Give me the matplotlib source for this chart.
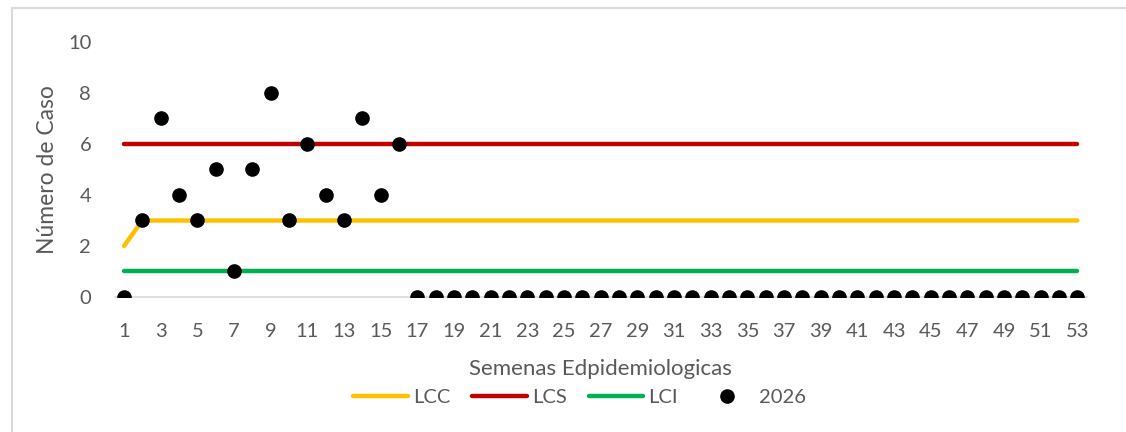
import matplotlib.pyplot as plt
from matplotlib.patches import Rectangle

semanas = list(range(1, 54))
casos_2026 = [0, 3, 7, 4, 3, 5, 1, 5, 8, 3, 6, 4, 3, 7, 4, 6] + [0] * 37
lcc = [2] + [3] * 52
lcs = [6] * 53
lci = [1] * 53
xticks = list(range(1, 54, 2))
yticks = [0, 2, 4, 6, 8, 10]

gris = '#595959'
plt.rcParams['font.family'] = ['Lato', 'DejaVu Sans']

fig = plt.figure(figsize=(11.26, 4.32), dpi=100)
ax = fig.add_axes([0.102, 0.3125, 0.863, 0.5903])

ax.plot(semanas, lcc, color='#FFC000', lw=3.2, solid_capstyle='round', label='LCC', zorder=2)
ax.plot(semanas, lcs, color='#C00000', lw=3.2, solid_capstyle='round', label='LCS', zorder=2)
ax.plot(semanas, lci, color='#00B050', lw=3.2, solid_capstyle='round', label='LCI', zorder=2)
ax.plot(semanas, casos_2026, 'o', color='black', ms=9.5, label='2026', zorder=3)

ax.set_xlim(0.5, 53.5)
ax.set_ylim(0, 10)
ax.set_xticks(xticks)
ax.set_yticks(yticks)
ax.tick_params(length=0, labelsize=14.5, colors=gris)
ax.tick_params(axis='x', pad=18.5)
ax.tick_params(axis='y', pad=17)
for s in ['top', 'right', 'left']:
    ax.spines[s].set_visible(False)
ax.spines['bottom'].set_color('#D9D9D9')
ax.spines['bottom'].set_linewidth(1.2)
ax.spines['bottom'].set_zorder(1)

ax.set_xlabel('Semenas Edpidemiologicas', fontsize=16, color=gris, labelpad=14)
ax.set_ylabel('Número de Caso', fontsize=16.5, color=gris, labelpad=7)

leg = fig.legend(loc='center', bbox_to_anchor=(0.515, 0.079), ncol=4, frameon=False,
                 fontsize=14.5, handlelength=2.7, columnspacing=1.1, handletextpad=0.25)
for t in leg.get_texts():
    t.set_color(gris)

fig.patches.append(Rectangle((0.011, -0.05), 1.05, 1.031, transform=fig.transFigure,
                             fill=False, edgecolor='#D9D9D9', lw=1.5))

fig.savefig('out.png', dpi=100)
